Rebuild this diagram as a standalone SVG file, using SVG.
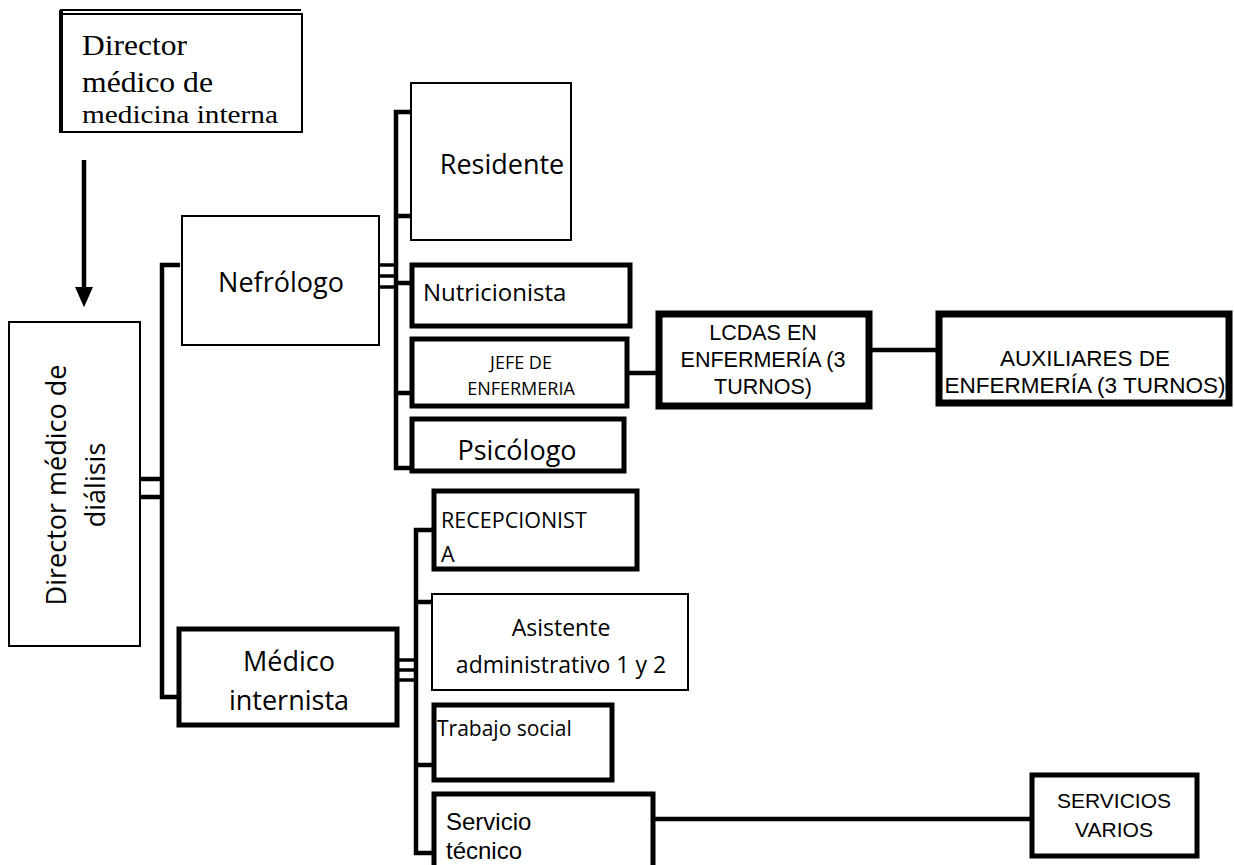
<svg xmlns="http://www.w3.org/2000/svg" width="1234" height="865" viewBox="0 0 1234 865">
<style>
.box{fill:#fff;stroke:#000}
.thin{stroke-width:2}
.thick{stroke-width:5}
.heavy{stroke-width:7}
.t{font-family:"Open Sans","Noto Sans","Liberation Sans",sans-serif;fill:#000}
.a{font-family:"Liberation Sans",Arial,sans-serif;fill:#000}
.s{font-family:"Liberation Serif","Times New Roman",serif;fill:#000}
.c{text-anchor:middle}
.ln{stroke:#000;fill:none;stroke-width:4.5}
.ln2{stroke:#000;fill:none;stroke-width:3.5}
</style>
<defs>
<marker id="ah" markerWidth="5" markerHeight="4" refX="0" refY="2" orient="auto" markerUnits="strokeWidth">
<path d="M0,0 L4.5,2 L0,4 Z" fill="#000"/>
</marker>
</defs>
<rect width="1234" height="865" fill="#fff"/>
<g id="connectors">
<line class="ln" x1="84" y1="160" x2="84" y2="287" marker-end="url(#ah)"/>
<line class="ln" x1="140" y1="479" x2="162" y2="479"/>
<line class="ln" x1="140" y1="497" x2="162" y2="497"/>
<polyline class="ln" points="180,265 162,265 162,697 180,697"/>
<line class="ln2" x1="379" y1="265" x2="396" y2="265"/>
<line class="ln2" x1="379" y1="276" x2="396" y2="276"/>
<line class="ln2" x1="379" y1="287" x2="396" y2="287"/>
<polyline class="ln" points="411,112 396,112 396,468 411,468"/>
<line class="ln" x1="396" y1="216" x2="411" y2="216"/>
<line class="ln" x1="396" y1="283" x2="411" y2="283"/>
<line class="ln" x1="396" y1="393" x2="411" y2="393"/>
<line class="ln" x1="628" y1="373" x2="656" y2="373"/>
<line class="ln" x1="872" y1="350" x2="936" y2="350"/>
<line class="ln2" x1="398" y1="660" x2="416" y2="660"/>
<line class="ln2" x1="398" y1="670" x2="416" y2="670"/>
<line class="ln2" x1="398" y1="680" x2="416" y2="680"/>
<polyline class="ln" points="432,530 416,530 416,853 432,853"/>
<line class="ln" x1="416" y1="602" x2="432" y2="602"/>
<line class="ln" x1="416" y1="765" x2="432" y2="765"/>
<line class="ln" x1="654" y1="819" x2="1031" y2="819"/>
</g>
<g id="director-medicina-interna">
<line x1="60" y1="10" x2="301" y2="10" stroke="#000" stroke-width="2"/>
<rect class="box thin" x="62" y="14" width="240" height="118"/>
<line x1="61" y1="10" x2="61" y2="133" stroke="#000" stroke-width="4"/>
<text class="s" x="82" y="55" font-size="30" textLength="105" lengthAdjust="spacingAndGlyphs">Director</text>
<text class="s" x="82" y="92" font-size="30" textLength="131" lengthAdjust="spacingAndGlyphs">médico de</text>
<text class="s" x="82" y="123" font-size="26" textLength="196" lengthAdjust="spacingAndGlyphs">medicina interna</text>
</g>
<g id="director-dialisis">
<rect class="box thin" x="9" y="322" width="131" height="324"/>
<text class="t c" transform="translate(66,485) rotate(-90)" font-size="27">Director médico de</text>
<text class="t c" transform="translate(105,485) rotate(-90)" font-size="27">diálisis</text>
</g>
<g id="nefrologo">
<rect class="box thin" x="182" y="216" width="197" height="129"/>
<text class="t c" x="281" y="292" font-size="27">Nefrólogo</text>
</g>
<g id="residente">
<rect class="box thin" x="411" y="83" width="160" height="157"/>
<text class="t c" x="502" y="174" font-size="27">Residente</text>
</g>
<g id="nutricionista">
<rect class="box thick" x="412" y="265" width="218" height="61"/>
<text class="t" x="423" y="301" font-size="24">Nutricionista</text>
</g>
<g id="jefe-enfermeria">
<rect class="box thick" x="412" y="339" width="215" height="67"/>
<text class="t c" x="521" y="369" font-size="18">JEFE DE</text>
<text class="t c" x="521" y="395" font-size="18">ENFERMERIA</text>
</g>
<g id="psicologo">
<rect class="box thick" x="412" y="419" width="212" height="52"/>
<text class="t c" x="517" y="460" font-size="27">Psicólogo</text>
</g>
<g id="lcdas">
<rect class="box heavy" x="659" y="314" width="210" height="92"/>
<text class="a c" x="763" y="340" font-size="21.5">LCDAS EN</text>
<text class="a c" x="763" y="367" font-size="21.5">ENFERMERÍA (3</text>
<text class="a c" x="763" y="394" font-size="21.5">TURNOS)</text>
</g>
<g id="auxiliares">
<rect class="box heavy" x="939" y="314" width="290" height="89"/>
<text class="a c" x="1085" y="366" font-size="22.5">AUXILIARES DE</text>
<text class="a c" x="1085" y="393" font-size="22.5">ENFERMERÍA (3 TURNOS)</text>
</g>
<g id="medico-internista">
<rect class="box thick" x="179" y="629" width="218" height="96"/>
<text class="t c" x="289" y="671" font-size="27">Médico</text>
<text class="t c" x="289" y="710" font-size="27">internista</text>
</g>
<g id="recepcionista">
<rect class="box thick" x="434" y="491" width="203" height="78"/>
<text class="t" x="441" y="528" font-size="21.5">RECEPCIONIST</text>
<text class="t" x="441" y="562" font-size="21.5">A</text>
</g>
<g id="asistente">
<rect class="box thin" x="432" y="594" width="256" height="96"/>
<text class="t c" x="561" y="636" font-size="23">Asistente</text>
<text class="t c" x="561" y="673" font-size="23">administrativo 1 y 2</text>
</g>
<g id="trabajo-social">
<rect class="box thick" x="434" y="705" width="178" height="75"/>
<text class="t" x="437" y="736" font-size="21">Trabajo social</text>
</g>
<g id="servicio-tecnico">
<rect class="box thick" x="434" y="794" width="219" height="80"/>
<text class="a" x="446" y="830" font-size="24">Servicio</text>
<text class="a" x="446" y="859" font-size="24">técnico</text>
</g>
<g id="servicios-varios">
<rect class="box thick" x="1032" y="775" width="165" height="81"/>
<text class="a c" x="1114" y="808" font-size="21">SERVICIOS</text>
<text class="a c" x="1114" y="837" font-size="21">VARIOS</text>
</g>
</svg>
